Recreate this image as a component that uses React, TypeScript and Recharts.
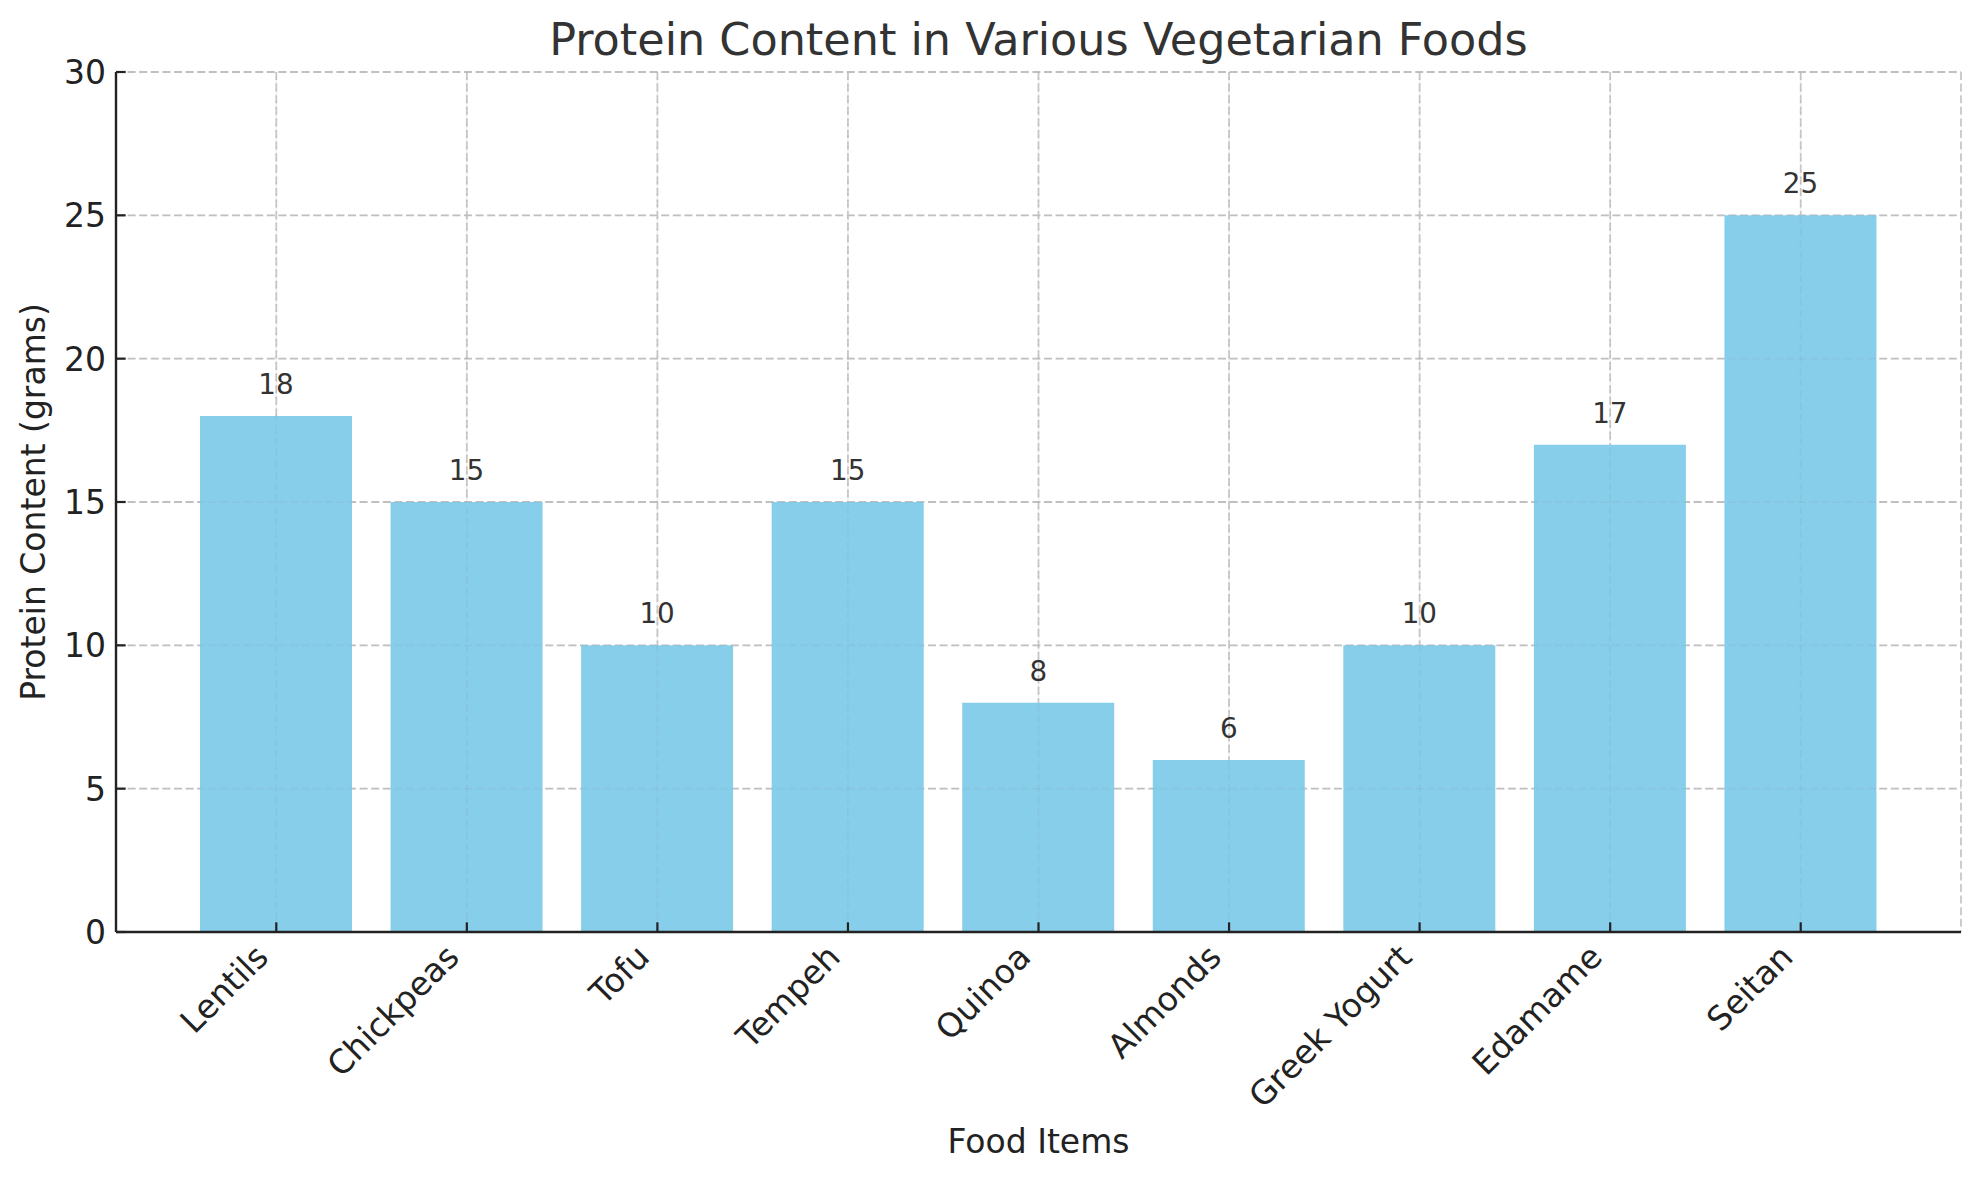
import React from "react";
import { BarChart, Bar, XAxis, YAxis, ReferenceLine, LabelList, Label, CartesianGrid } from "recharts";

const foods = ["Lentils", "Chickpeas", "Tofu", "Tempeh", "Quinoa", "Almonds", "Greek Yogurt", "Edamame", "Seitan"];
const protein = [18, 15, 10, 15, 8, 6, 10, 17, 25];
const yTicks = [0, 5, 10, 15, 20, 25, 30];
const gridY = [5, 10, 15, 20, 25, 30];

const data = foods.map((f, i) => ({ food: f, protein: protein[i] }));

const FONT = "DejaVu Sans";
const AXIS = "#222222";

const XTick = (props: any) => {
  const { x, y, payload } = props;
  const ex = x - 6;
  const ey = y + 27;
  return (
    <g>
      <line x1={x} y1={y} x2={x} y2={y - 9.7} stroke={AXIS} strokeWidth={2.2} />
      <text
        x={ex}
        y={ey}
        textAnchor="end"
        transform={`rotate(-45, ${ex}, ${ey})`}
        fontSize={33}
        fill={AXIS}
        fontFamily={FONT}
      >
        {payload.value}
      </text>
    </g>
  );
};

const YTick = (props: any) => {
  const { x, y, payload } = props;
  return (
    <g>
      <line x1={x} y1={y} x2={x + 9.7} y2={y} stroke={AXIS} strokeWidth={2.2} />
      <text x={x - 10} y={y + 12} textAnchor="end" fontSize={33} fill={AXIS} fontFamily={FONT}>
        {payload.value}
      </text>
    </g>
  );
};

const ValueLabel = (props: any) => {
  const { x, y, width, value } = props;
  return (
    <text x={x + width / 2} y={y - 22} textAnchor="middle" fontSize={27.8} fill="#333333" fontFamily={FONT}>
      {value}
    </text>
  );
};

const overGrid = {
  stroke: "#808080",
  strokeOpacity: 0.1,
  strokeWidth: 1.8,
  strokeDasharray: "8 3.6",
};

export default function App() {
  return (
    <div style={{ position: "absolute", left: 0, top: 0, width: 1979, height: 1180, background: "#fff" }}>
      <BarChart
        width={1979}
        height={1180}
        data={data}
        margin={{ top: 72, right: 18, bottom: 0, left: 0 }}
      >
        <CartesianGrid stroke="#c8c8c8" strokeWidth={1.8} strokeDasharray="8 3.6" />
        <XAxis
          dataKey="food"
          type="category"
          height={248}
          padding={{ left: 65, right: 65 }}
          interval={0}
          tickSize={0}
          tickMargin={0}
          tickLine={false}
          tick={<XTick />}
          axisLine={{ stroke: AXIS, strokeWidth: 2.4 }}
        >
          <Label
            content={() => (
              <text x={1038.5} y={1153} textAnchor="middle" fontSize={33} fill={AXIS} fontFamily={FONT}>
                Food Items
              </text>
            )}
          />
        </XAxis>
        <YAxis
          type="number"
          width={116}
          domain={[0, 30]}
          ticks={yTicks}
          tickSize={0}
          tickMargin={0}
          tickLine={false}
          tick={<YTick />}
          axisLine={{ stroke: AXIS, strokeWidth: 2.4 }}
        >
          <Label
            content={() => (
              <text
                x={45}
                y={502}
                textAnchor="middle"
                transform="rotate(-90, 45, 502)"
                fontSize={33}
                fill={AXIS}
                fontFamily={FONT}
              >
                Protein Content (grams)
              </text>
            )}
          />
        </YAxis>
        <Bar dataKey="protein" fill="#87CEEB" barSize={152} isAnimationActive={false}>
          <LabelList dataKey="protein" content={<ValueLabel />} />
        </Bar>
        {foods.map((f) => (
          <ReferenceLine key={"gx" + f} x={f} {...overGrid} />
        ))}
        {gridY.map((v) => (
          <ReferenceLine key={"gy" + v} y={v} {...overGrid} />
        ))}
      </BarChart>
      <svg
        width={1979}
        height={1180}
        style={{ position: "absolute", left: 0, top: 0, pointerEvents: "none" }}
      >
        <text x={1038.5} y={55} textAnchor="middle" fontSize={44.5} fill="#333333" fontFamily={FONT}>
          Protein Content in Various Vegetarian Foods
        </text>
      </svg>
    </div>
  );
}
